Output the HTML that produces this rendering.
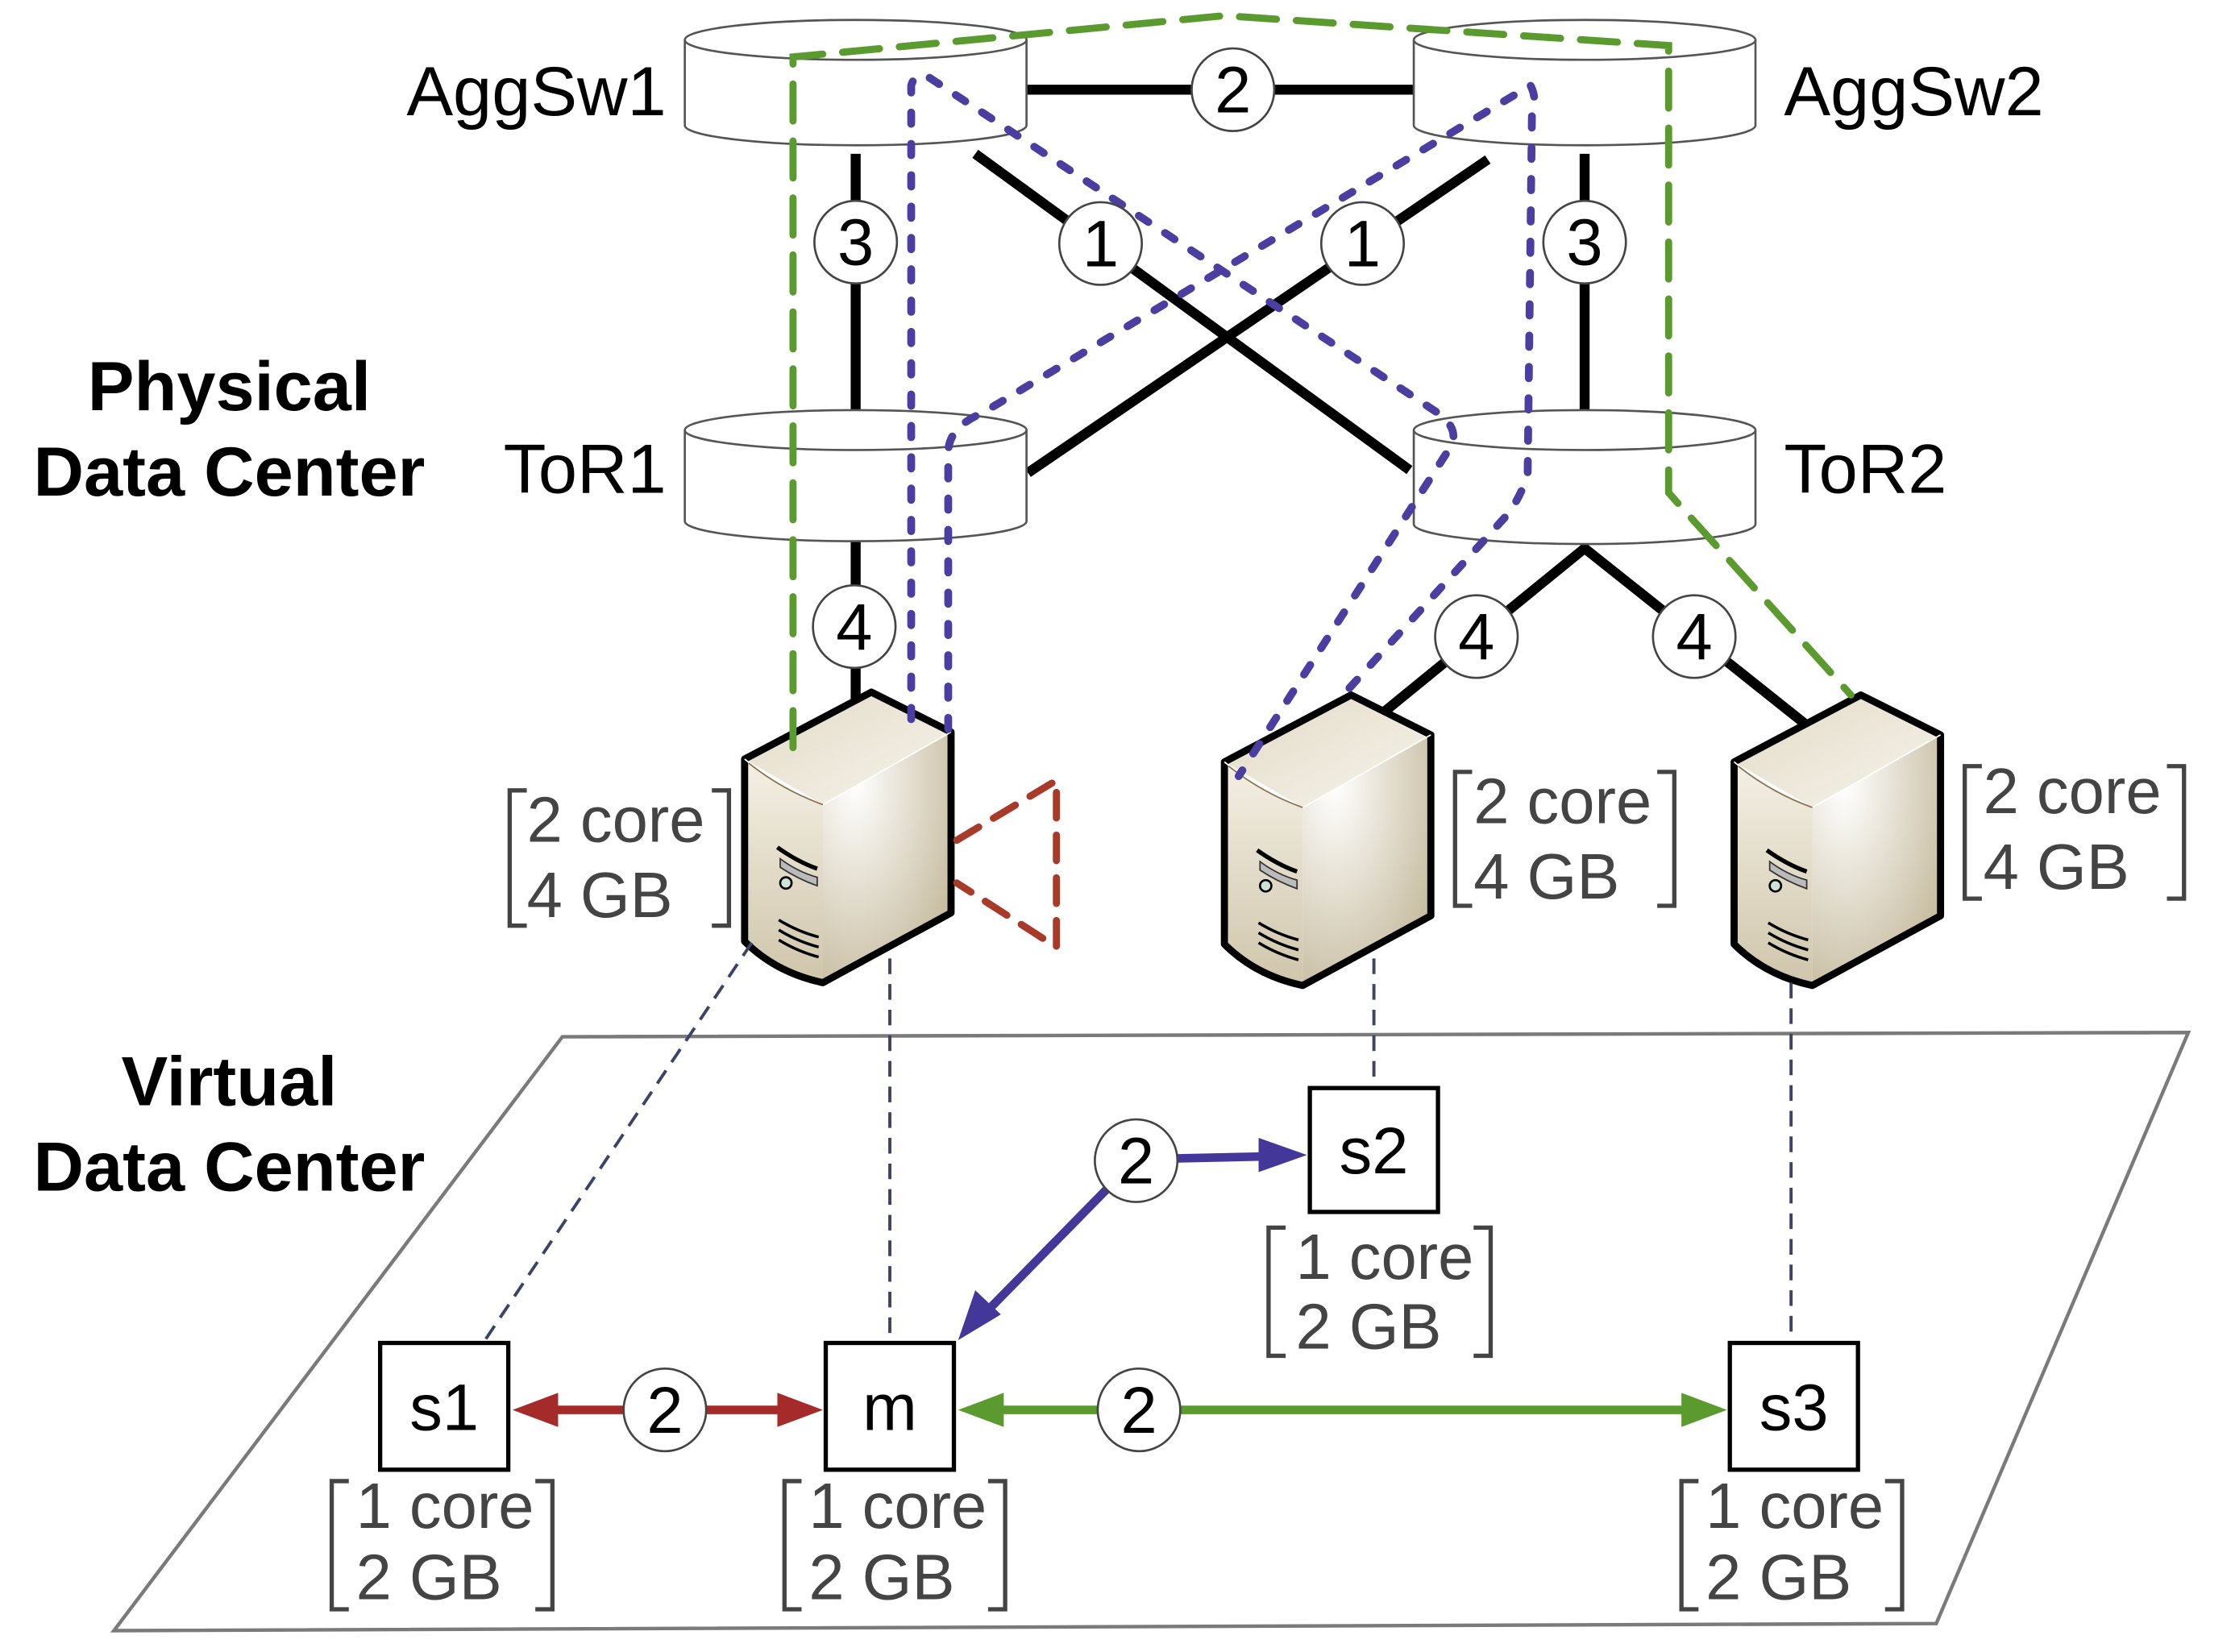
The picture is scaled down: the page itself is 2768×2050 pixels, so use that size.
<!DOCTYPE html>
<html><head><meta charset="utf-8"><style>
html,body{margin:0;padding:0;background:#fff;}
svg{display:block;}
text{font-family:"Liberation Sans",Arial,sans-serif;}
</style></head><body>
<svg width="2768" height="2050" viewBox="0 0 1567 1160" preserveAspectRatio="none" xmlns="http://www.w3.org/2000/svg">
<defs>
<linearGradient id="gf" x1="0" y1="0" x2="0" y2="1"><stop offset="0" stop-color="#f4f0e4"/><stop offset="1" stop-color="#cfc5ab"/></linearGradient>
<radialGradient id="gs" cx="0.25" cy="0.2" r="1"><stop offset="0" stop-color="#ffffff"/><stop offset="1" stop-color="#bfb393"/></radialGradient>
<linearGradient id="gt" x1="0" y1="0" x2="1" y2="1"><stop offset="0" stop-color="#e2dac6"/><stop offset="1" stop-color="#f7f4ec"/></linearGradient>
<g id="srv">
<path d="M523,533 L612,486 L668,514 L578,565 Z" fill="url(#gt)"/>
<path d="M578,565 L668,514 L668,641 L578,690 Z" fill="url(#gs)"/>
<path d="M523,533 Q550,555 578,565 L578,690 Q545,683 523,661 Z" fill="url(#gf)"/>
<path d="M523,533 L612,486 L668,514 L668,641 L578,690 Q545,683 523,661 Z" fill="none" stroke="#000" stroke-width="5" stroke-linejoin="round"/>
<path d="M523,533 Q550,555 578,565 L668,514" fill="none" stroke="#fff" stroke-width="1"/>
<path d="M526,536 Q550,555 578,565" fill="none" stroke="#8a7050" stroke-width="1"/>
<path d="M546,595 Q560,605 574,610" stroke="#000" stroke-width="3" fill="none"/>
<path d="M548,603 Q560,612 574,616 L574,622 Q560,617 548,609 Z" fill="#bbb" stroke="#333" stroke-width="1"/>
<circle cx="552" cy="620" r="4" fill="#cfe3d5" stroke="#000" stroke-width="1.5"/>
<path d="M547,646 Q560,654 575,658 M547,653 Q560,661 575,665 M547,660 Q560,668 575,672" stroke="#000" stroke-width="2" fill="none"/>
</g>
</defs>

<!-- virtual plane -->
<path d="M395,728 L1537,725 L1360,1140 L80,1145 Z" fill="none" stroke="#7a7a7a" stroke-width="2.5"/>

<!-- black links -->
<g stroke="#000" stroke-width="7" fill="none">
<line x1="720" y1="63" x2="993" y2="63"/>
<line x1="601" y1="108" x2="601" y2="292"/>
<line x1="1113" y1="108" x2="1113" y2="292"/>
<line x1="685" y1="108" x2="990" y2="330"/>
<line x1="1045" y1="112" x2="722" y2="332"/>
<line x1="601" y1="380" x2="601" y2="498"/>
<polyline points="972,500 1113,385 1270,510"/>
</g>

<!-- cylinders -->
<g fill="#fff" stroke="#555" stroke-width="1.5">
<path d="M481,28 L481,88 A120,14 0 0 0 721,88 L721,28"/><ellipse cx="601" cy="28" rx="120" ry="14"/>
<path d="M993,28 L993,88 A120,14 0 0 0 1233,88 L1233,28"/><ellipse cx="1113" cy="28" rx="120" ry="14"/>
<path d="M481,302 L481,366 A120,14 0 0 0 721,366 L721,302"/><ellipse cx="601" cy="302" rx="120" ry="14"/>
<path d="M993,302 L993,368 A120,14 0 0 0 1233,368 L1233,302"/><ellipse cx="1113" cy="302" rx="120" ry="14"/>
</g>

<!-- servers -->
<use href="#srv"/>
<use href="#srv" transform="translate(337,2)"/>
<use href="#srv" transform="translate(695,2)"/>

<!-- green dashed -->
<path d="M557,525 L557,40 L860,11 L1172,32 L1172,346 L1180,355 L1300,488" fill="none" stroke="#5a9a2e" stroke-width="5" stroke-dasharray="26,14" stroke-linecap="round"/>
<!-- purple dotted -->
<g fill="none" stroke="#4a3ea0" stroke-width="5.5" stroke-dasharray="8,14" stroke-linecap="round">
<path d="M640,505 L640,60 Q643,50 652,54 L1010,290 Q1024,300 1020,312 L870,545"/>
<path d="M666,512 L666,318 Q666,300 690,290 L1075,60 Q1080,70 1076,80 L1073,332 Q1070,345 1060,360 L947,484"/>
</g>
<!-- red dashed triangle -->
<path d="M672,590 L742,548 L742,665 L672,620" fill="none" stroke="#a83a2a" stroke-width="5" stroke-dasharray="18,12" stroke-linecap="round"/>

<!-- thin dashed mapping -->
<g stroke="#3a4466" stroke-width="2.2" stroke-dasharray="11,7" fill="none">
<line x1="528" y1="662" x2="340" y2="942"/>
<line x1="625" y1="673" x2="625" y2="940"/>
<line x1="965" y1="673" x2="965" y2="763"/>
<line x1="1258" y1="690" x2="1258" y2="940"/>
</g>

<!-- circles on physical links -->
<g fill="#fff" stroke="#444" stroke-width="1.5">
<circle cx="866" cy="63" r="29"/><circle cx="601" cy="170" r="29"/><circle cx="1113" cy="170" r="29"/>
<circle cx="773" cy="171" r="29"/><circle cx="957" cy="171" r="29"/>
<circle cx="600" cy="440" r="29"/><circle cx="1037" cy="447" r="29"/><circle cx="1190" cy="447" r="29"/>
</g>
<g font-size="46" text-anchor="middle" fill="#000">
<text x="866" y="79">2</text><text x="601" y="186">3</text><text x="1113" y="186">3</text>
<text x="773" y="187">1</text><text x="957" y="187">1</text>
<text x="600" y="456">4</text><text x="1037" y="463">4</text><text x="1190" y="463">4</text>
</g>

<!-- labels -->
<g font-size="49" fill="#000">
<text x="468" y="81" text-anchor="end">AggSw1</text>
<text x="1253" y="81">AggSw2</text>
<text x="468" y="346" text-anchor="end">ToR1</text>
<text x="1253" y="346">ToR2</text>
</g>
<g font-size="49" font-weight="bold" text-anchor="middle" fill="#000">
<text x="161" y="288">Physical</text><text x="161" y="348">Data Center</text>
<text x="161" y="776">Virtual</text><text x="161" y="836">Data Center</text>
</g>

<!-- server resources -->
<g fill="#444" font-size="45">
<text x="370" y="591">2 core</text><text x="370" y="644">4 GB</text>
<text x="1035" y="578">2 core</text><text x="1035" y="631">4 GB</text>
<text x="1393" y="571">2 core</text><text x="1393" y="624">4 GB</text>
<text x="910" y="898">1 core</text><text x="910" y="947">2 GB</text>
<text x="250" y="1073">1 core</text><text x="250" y="1123">2 GB</text>
<text x="568" y="1073">1 core</text><text x="568" y="1123">2 GB</text>
<text x="1198" y="1073">1 core</text><text x="1198" y="1123">2 GB</text>
</g>
<g fill="none" stroke="#444" stroke-width="3">
<path d="M370,555 H358 V650 H370 M500,555 H512 V650 H500"/>
<path d="M1034,542 H1022 V636 H1034 M1164,542 H1176 V636 H1164"/>
<path d="M1392,538 H1380 V631 H1392 M1522,538 H1534 V631 H1522"/>
<path d="M903,862 H891 V952 H903 M1035,862 H1047 V952 H1035"/>
<path d="M245,1040 H233 V1130 H245 M376,1040 H388 V1130 H376"/>
<path d="M563,1040 H551 V1130 H563 M694,1040 H706 V1130 H694"/>
<path d="M1193,1040 H1181 V1130 H1193 M1324,1040 H1336 V1130 H1324"/>
</g>

<!-- virtual links -->
<g stroke-width="6" fill="none">
<line x1="380" y1="990" x2="558" y2="990" stroke="#a52a2a"/>
<line x1="695" y1="990" x2="1193" y2="990" stroke="#5a9a2e"/>
<line x1="798" y1="814" x2="890" y2="812" stroke="#43389a"/>
<line x1="798" y1="814" x2="692" y2="922" stroke="#43389a"/>
</g>
<polygon points="360,990 392,978 392,1002" fill="#a52a2a"/>
<polygon points="578,990 546,978 546,1002" fill="#a52a2a"/>
<polygon points="673,990 705,978 705,1002" fill="#5a9a2e"/>
<polygon points="1213,990 1181,978 1181,1002" fill="#5a9a2e"/>
<polygon points="918,811 884,799 884,823" fill="#43389a"/>
<polygon points="673,941 685,906 703,923" fill="#43389a"/>
<g fill="#fff" stroke="#444" stroke-width="1.5">
<circle cx="467" cy="990" r="29"/><circle cx="800" cy="990" r="29"/><circle cx="798" cy="815" r="29"/>
</g>
<g font-size="46" text-anchor="middle">
<text x="467" y="1006">2</text><text x="800" y="1006">2</text><text x="798" y="831">2</text>
</g>

<!-- vm boxes -->
<g fill="#fff" stroke="#000" stroke-width="3">
<rect x="267" y="943" width="90" height="89"/>
<rect x="580" y="943" width="90" height="89"/>
<rect x="1215" y="943" width="90" height="89"/>
<rect x="920" y="764" width="90" height="87"/>
</g>
<g font-size="46" text-anchor="middle">
<text x="312" y="1004">s1</text><text x="625" y="1004">m</text><text x="1260" y="1004">s3</text><text x="965" y="824">s2</text>
</g>
</svg>
</body></html>
